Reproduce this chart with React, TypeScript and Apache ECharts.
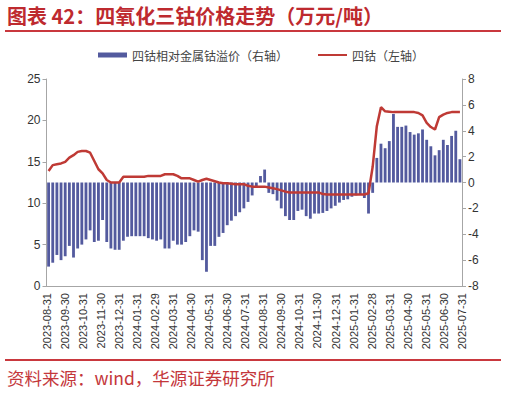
import React, { useEffect, useRef } from "react";
import * as echarts from "echarts";

const titleText = "图表 42：四氧化三钴价格走势（万元/吨）";
const sourceText = "资料来源：wind，华源证券研究所";
const barName = "四钴相对金属钴溢价（右轴）";
const lineName = "四钴（左轴）";

const monthLabels = [
  "2023-08-31", "2023-09-30", "2023-10-31", "2023-11-30", "2023-12-31", "2024-01-31",
  "2024-02-29", "2024-03-31", "2024-04-30", "2024-05-31", "2024-06-30", "2024-07-31",
  "2024-08-31", "2024-09-30", "2024-10-31", "2024-11-30", "2024-12-31", "2025-01-31",
  "2025-02-28", "2025-03-31", "2025-04-30", "2025-05-31", "2025-06-30", "2025-07-31",
];

// weekly premium of Co3O4 over cobalt metal (right axis, 万元/吨)
const premium = [
  -6.5, -6.2, -5.6, -6.0, -5.7, -4.9, -5.8, -5.1, -4.8, -4.4,
  -3.7, -4.6, -4.5, -2.9, -4.6, -5.1, -5.2, -5.2, -4.5, -4.2,
  -4.15, -4.15, -4.15, -4.15, -4.3, -4.4, -4.5, -4.4, -5.1, -5.1,
  -4.5, -4.8, -4.8, -4.6, -4.15, -3.7, -3.8, -6.0, -6.9, -4.9,
  -4.9, -4.2, -3.9, -3.3, -2.95, -2.6, -2.3, -2.0, -1.5, -1.0,
  -0.3, 0.5, 1.0, -0.8, -0.9, -1.4, -2.0, -2.6, -2.9, -2.9,
  -2.2, -2.1, -2.6, -2.8, -2.4, -2.4, -2.35, -2.2, -2.0, -1.8,
  -1.55, -1.35, -1.3, -1.1, -1.0, -0.9, -1.2, -2.4, -0.8, 1.9,
  3.0, 2.65, 3.2, 5.3, 4.3, 4.3, 4.4, 3.9, 3.7, 3.8,
  4.1, 3.3, 2.8, 2.1, 2.5, 3.3, 2.9, 3.6, 4.0, 1.8,
];

// weekly Co3O4 price (left axis, 万元/吨)
const price = [
  13.9, 14.6, 14.7, 14.8, 15.0, 15.5, 15.8, 16.2, 16.3, 16.3,
  16.1, 15.1, 14.1, 13.6, 12.8, 12.5, 12.5, 12.5, 13.2, 13.2,
  13.2, 13.2, 13.2, 13.2, 13.3, 13.3, 13.3, 13.3, 13.5, 13.5,
  13.5, 13.3, 13.0, 13.0, 13.0, 12.8, 12.6, 12.8, 12.95, 12.8,
  12.65, 12.5, 12.4, 12.4, 12.35, 12.3, 12.3, 12.3, 12.1, 12.0,
  12.0, 12.0, 12.0, 11.9, 11.8, 11.7, 11.55, 11.4, 11.3, 11.3,
  11.3, 11.3, 11.3, 11.3, 11.3, 11.3, 11.1, 11.05, 11.05, 11.05,
  11.05, 11.05, 11.05, 11.05, 11.05, 11.05, 11.05, 11.2, 14.4, 19.3,
  21.6, 21.1, 21.05, 21.0, 21.0, 21.0, 21.0, 21.0, 21.0, 20.9,
  20.6, 19.7, 19.2, 18.9, 20.4, 20.7, 20.9, 21.0, 21.0, 21.0,
];

const leftTicks = { min: 0, max: 25, interval: 5 };
const rightTicks = { min: -8, max: 8, interval: 2 };

export default function App() {
  const ref = useRef<HTMLDivElement>(null);
  useEffect(() => {
    if (!ref.current) return;
    const chart = echarts.init(ref.current, null, { renderer: "svg" });
    const weeks = premium.map((_, i) => String(i));
    const axisColor = "#a6a6a6";
    const labelStyle = { color: "#333", fontSize: 11, fontFamily: "Liberation Sans, Arial, sans-serif" };
    chart.setOption({
      animation: false,
      backgroundColor: "#fff",
      grid: { left: 46.5, right: 44, top: 79, bottom: 107, containLabel: false },
      legend: {
        left: 93,
        top: 44,
        itemWidth: 29,
        itemHeight: 5,
        itemGap: 29,
        textStyle: { color: "#444", fontSize: 12, fontFamily: "Noto Sans CJK SC" },
        data: [
          { name: barName, icon: "rect" },
          { name: lineName, itemStyle: { opacity: 0 } },
        ],
      },
      xAxis: [
        { type: "category", data: weeks, show: false, boundaryGap: true },
        {
          type: "category",
          data: monthLabels,
          boundaryGap: false,
          position: "bottom",
          axisLine: { show: true, onZero: false, lineStyle: { color: axisColor, width: 1 } },
          axisTick: { show: false },
          axisLabel: { interval: 0, rotate: 90, margin: 7, ...labelStyle },
          splitLine: { show: false },
        },
      ],
      yAxis: [
        {
          type: "value",
          position: "left",
          ...leftTicks,
          axisLine: { show: true, lineStyle: { color: axisColor } },
          axisTick: { show: true, length: 4, lineStyle: { color: axisColor } },
          axisLabel: { margin: 6, ...labelStyle, fontSize: 12 },
          splitLine: { show: false },
        },
        {
          type: "value",
          position: "right",
          ...rightTicks,
          axisLine: { show: true, lineStyle: { color: axisColor } },
          axisTick: { show: true, length: 4, lineStyle: { color: axisColor } },
          axisLabel: { margin: 6, ...labelStyle, fontSize: 12 },
          splitLine: { show: false },
        },
      ],
      series: [
        {
          name: barName,
          type: "bar",
          xAxisIndex: 0,
          yAxisIndex: 1,
          data: premium,
          barWidth: "68%",
          itemStyle: { color: "#535a9e" },
        },
        {
          name: lineName,
          type: "line",
          xAxisIndex: 0,
          yAxisIndex: 0,
          data: price,
          symbol: "none",
          lineStyle: { color: "#bf3a35", width: 2.5 },
          itemStyle: { color: "#bf3a35" },
        },
      ],
      graphic: [
        {
          type: "text",
          left: 7,
          top: 5,
          style: {
            text: titleText,
            fill: "#be2a2f",
            font: "bold 20px 'Noto Sans CJK SC'",
          },
        },
        {
          type: "rect",
          shape: { x: 5, y: 30, width: 496, height: 2 },
          style: { fill: "#c9383e" },
        },
        {
          type: "rect",
          shape: { x: 5, y: 359, width: 496, height: 2 },
          style: { fill: "#c9383e" },
        },
        {
          type: "text",
          left: 7,
          top: 369,
          style: {
            text: sourceText,
            fill: "#c4373b",
            font: "17.5px 'Noto Sans CJK SC'",
          },
        },
      ],
    });
    return () => chart.dispose();
  }, []);
  return <div ref={ref} style={{ width: 506, height: 393, position: "absolute", left: 0, top: 0 }} />;
}
